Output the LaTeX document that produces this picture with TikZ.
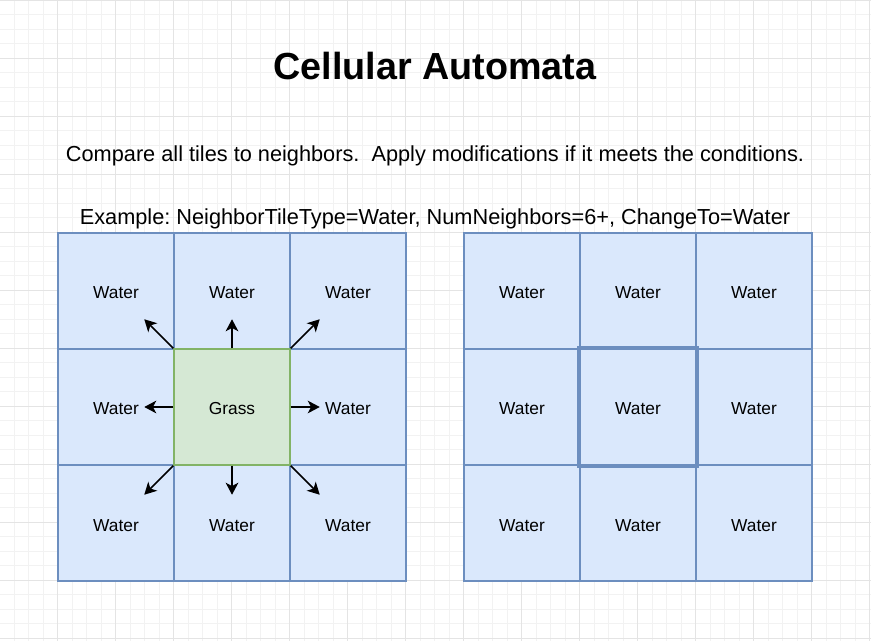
\documentclass[tikz,border=0pt]{standalone}
\usepackage{fontspec}
\setmainfont{Liberation Sans}
\usetikzlibrary{arrows.meta,calc}
\definecolor{WaterFill}{HTML}{DAE8FC}
\definecolor{WaterLine}{HTML}{6C8EBF}
\definecolor{GrassFill}{HTML}{D5E8D4}
\definecolor{GrassLine}{HTML}{82B366}
\definecolor{GridMinor}{HTML}{F2F2F2}
\definecolor{GridMajor}{HTML}{E4E4E4}
\frenchspacing

\begin{document}
\begin{tikzpicture}[x=0.75pt,y=-0.75pt,>={Stealth[length=9pt,width=9.5pt,inset=2.5pt]}]
        \useasboundingbox (0,0) rectangle (871,641);
        % background grid
        \foreach \k in {0,...,60} {
          \draw[GridMinor,line width=0.6pt] (-0.5+\k*14.5,0) -- (-0.5+\k*14.5,641);
          \draw[GridMinor,line width=0.6pt] (0,\k*14.5) -- (871,\k*14.5);
        }
        \foreach \k in {0,...,15} {
          \draw[GridMajor,line width=0.6pt] (-0.5+\k*58,0) -- (-0.5+\k*58,641);
          \draw[GridMajor,line width=0.6pt] (0,\k*58) -- (871,\k*58);
        }
        % texts
        \node[inner sep=0pt,font=\bfseries\fontsize{28.3}{32}\selectfont] (title) at (435,66) {Cellular Automata};
        \node[inner sep=0pt,font=\fontsize{16.3}{19}\selectfont] (rule) at (435,156) {Compare all tiles to neighbors.\ \ Apply modifications if it meets the conditions.};
        \node[inner sep=0pt,font=\fontsize{16.3}{19}\selectfont] (example) at (435,219) {Example: NeighborTileType=Water, NumNeighbors=6+, ChangeTo=Water};
        % left grid
        \foreach \r/\c in {0/0,0/1,0/2,1/0,1/2,2/0,2/1,2/2} {
          \node[
            draw=WaterLine,
            fill=WaterFill,
            line width=1.1pt,
            minimum size=87pt,
            inner sep=0pt,
            text height=12pt,
            text depth=0pt,
            font=\fontsize{13}{15}\selectfont
          ] (L\r\c) at (116+\c*116,291+\r*116) {Water};
        }
        \node[
          draw=GrassLine,
          fill=GrassFill,
          line width=1.1pt,
          minimum size=87pt,
          inner sep=0pt,
          text height=12pt,
          text depth=0pt,
          font=\fontsize{13}{15}\selectfont
        ] (grass) at (232,407) {Grass};
        \foreach \a/\dx/\dy/\n in {north/0/-29/n,south/0/29/s,west/-29/0/w,east/29/0/e,north west/-29/-29/nw,north east/29/-29/ne,south west/-29/29/sw,south east/29/29/se} {
          \coordinate (tip-\n) at ($(grass.\a)+(\dx,\dy)$);
          \draw[->,line width=1.3pt] (grass.\a) -- (tip-\n);
        }
        % right grid
        \foreach \r in {0,1,2} {
          \foreach \c in {0,1,2} {
            \node[
              draw=WaterLine,
              fill=WaterFill,
              line width=1.1pt,
              minimum size=87pt,
              inner sep=0pt,
              text height=12pt,
              text depth=0pt,
              font=\fontsize{13}{15}\selectfont
            ] (R\r\c) at (522+\c*116,291+\r*116) {Water};
          }
        }
        \draw[WaterLine,line width=3.3pt] (R11.north west) rectangle (R11.south east);
      \end{tikzpicture}
\end{document}
